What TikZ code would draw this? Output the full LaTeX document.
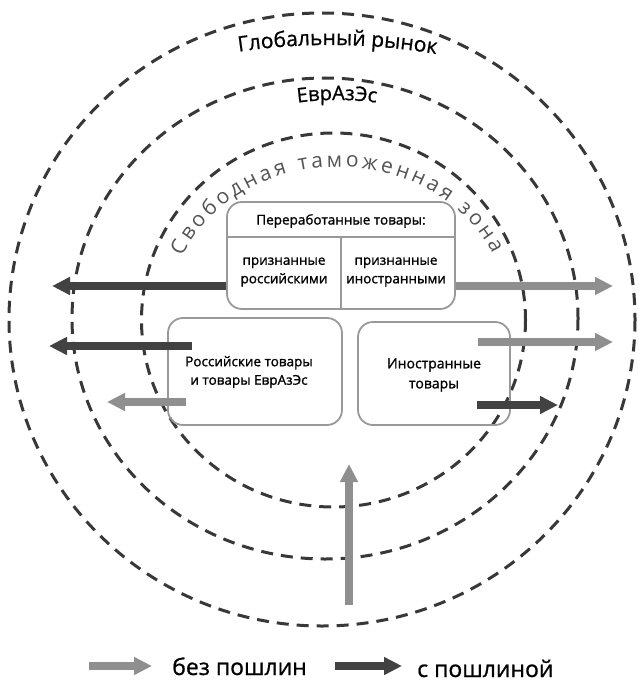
\documentclass[tikz,border=0pt]{standalone}
\usepackage{fontspec}
\setmainfont{Open Sans}
\usetikzlibrary{positioning,arrows.meta,decorations.text}
\definecolor{dutydark}{gray}{0.26}
\definecolor{freelight}{gray}{0.56}
\definecolor{zoneline}{gray}{0.22}
\definecolor{frameline}{gray}{0.6}
\definecolor{zonetext}{gray}{0.33}

\begin{document}
\begin{tikzpicture}[x=1pt,y=-1pt,
    zone/.style={draw=zoneline,line width=3pt,dash pattern=on 12pt off 8pt},
    goodsbox/.style={draw=frameline,line width=1.8pt,rounded corners=15pt,inner sep=0pt},
    divider/.style={draw=frameline,line width=1.8pt},
    boxtext/.style={font=\fontsize{13.5}{18.5}\selectfont\addfontfeature{FakeBold=1.2},align=center,inner sep=0pt},
    keytext/.style={font=\fontsize{23}{27}\selectfont\addfontfeature{FakeBold=0.8},anchor=base west,inner sep=0pt},
    freearrow/.style={draw=freelight,line width=8pt,-{Triangle[length=18pt,width=17pt]}},
    dutyarrow/.style={draw=dutydark,line width=8pt,-{Triangle[length=18pt,width=17pt]}}]
    \useasboundingbox (0,0) rectangle (638,682);
    \draw[zone] (322,319.5) ellipse[x radius=313,y radius=306.5];
    \draw[zone] (325,318.5) ellipse[x radius=253,y radius=240.5];
    \draw[zone] (333.5,320) ellipse[x radius=192,y radius=187];
    \path[decorate,decoration={text along path,text align=center,
        text={|\fontsize{21}{25}\selectfont\addfontfeature{FakeBold=0.8}|Глобальный рынок}}]
        (207.5,57.1) arc[start angle=258.7,end angle=282.7,radius=625];
    \path[decorate,decoration={text along path,text align=center,
        text={|\fontsize{20}{24}\selectfont\addfontfeature{FakeBold=0.8}|ЕврАзЭс}}]
        (284.9,104.6) arc[start angle=260,end angle=280,radius=300];
    \path[decorate,decoration={text along path,text align={fit to path},
        text={|\color{zonetext}\fontsize{21}{25}\selectfont|Свободная таможенная зона}}]
        (182.2,256.4) arc[start angle=202,end angle=337,x radius=168,y radius=143];
    \node[goodsbox,minimum width=228pt,minimum height=107pt] (processed) at (341,255.5) {};
    \node[goodsbox,minimum width=174pt,minimum height=107pt] (russian) at (255,371.5) {};
    \node[goodsbox,minimum width=152pt,minimum height=103pt] (foreign) at (434,373.5) {};
    \draw[divider] ([yshift=-36pt]processed.north west) -- ([yshift=-36pt]processed.north east);
    \draw[divider] ([yshift=-36pt]processed.north) -- (processed.south);
    \node[boxtext] (header) at (341,221) {Переработанные товары:};
    \node[boxtext] (asrus) at (284,272) {признанные\\российскими};
    \node[boxtext] (asfor) at (396,272) {признанные\\иностранными};
    \node[boxtext] (rustext) at (249,372) {Российские товары\\и товары ЕврАзЭс};
    \node[boxtext,font=\fontsize{14}{20}\selectfont\addfontfeature{FakeBold=1.2}] (fortext) at (434,375) {Иностранные\\товары};
    \coordinate (exitL1) at (52,286);
    \coordinate (exitR1) at (613,286);
    \coordinate (exitL2) at (49,346);
    \coordinate (exitL3) at (107,402);
    \coordinate (exitR2) at (613,342);
    \coordinate (exitR3) at (558,405);
    \coordinate (entry) at (349,605);
    \coordinate (entrytip) at (349,464);
    \draw[dutyarrow] (processed.west |- exitL1) -- (exitL1);
    \draw[freearrow] (processed.east |- exitR1) -- (exitR1);
    \draw[dutyarrow] ([xshift=25pt]russian.west |- exitL2) -- (exitL2);
    \draw[freearrow] ([xshift=19pt]russian.west |- exitL3) -- (exitL3);
    \draw[freearrow] ([xshift=-33pt]foreign.east |- exitR2) -- (exitR2);
    \draw[dutyarrow] ([xshift=-34pt]foreign.east |- exitR3) -- (exitR3);
    \draw[freearrow] (entry) -- (entrytip);
    \node[keytext] (freetext) at (172,675) {без пошлин};
    \node[keytext] (dutytext) at (417,677) {с пошлиной};
    \coordinate (freekey) at (89,666);
    \coordinate (dutykey) at (335,666);
    \draw[freearrow] (freekey) -- ([xshift=-20pt]freetext.west |- freekey);
    \draw[dutyarrow] (dutykey) -- ([xshift=-15pt]dutytext.west |- dutykey);
\end{tikzpicture}
\end{document}
